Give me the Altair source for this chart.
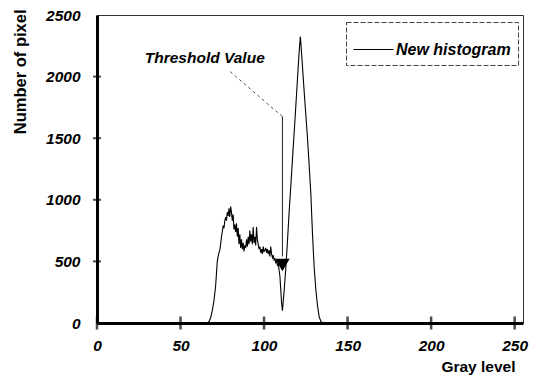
import altair as alt
import pandas as pd

# ---- histogram data (gray level, pixel count) ----
gray = [0, 40, 66, 67, 68, 69, 70, 71,
        72, 72.5, 73, 73.5, 74, 74.5, 75, 75.5, 76, 76.5, 77, 77.5, 78, 78.5,
        79, 79.5, 80, 80.5, 81, 81.5, 82, 82.5, 83, 83.5, 84, 84.5, 85, 85.5,
        86, 86.5, 87, 87.5, 88, 88.5, 89, 89.5, 90, 90.5, 91, 91.5, 92, 92.5,
        93, 93.5, 94, 94.5, 95, 95.5, 96, 96.5, 97, 97.5, 98, 98.5, 99, 99.5,
        100, 100.5, 101, 101.5, 102, 102.5, 103, 103.5, 104, 104.5, 105, 105.5,
        106, 106.5, 107, 107.5, 108, 108.5, 109, 109.5, 110, 110.5, 111,
        112, 113, 114, 115, 116, 117, 118, 119, 120, 121, 121.7,
        122, 123, 124, 125, 126, 127, 128, 129, 130, 131, 132, 133, 134, 135,
        180, 255]
count = [0, 0, 0, 10, 40, 100, 180, 300,
         500, 540, 570, 590, 640, 700, 740, 790, 770, 830, 860, 830, 900, 870,
         930, 860, 945, 900, 830, 880, 760, 800, 740, 810, 700, 770, 640, 720,
         610, 680, 600, 650, 580, 630, 610, 680, 620, 700, 640, 750, 660, 720,
         640, 780, 650, 700, 630, 780, 680, 640, 600, 620, 570, 600, 560, 620,
         580, 590, 610, 570, 600, 560, 590, 540, 620, 560, 530, 550,
         510, 520, 490, 500, 470, 480, 430, 380, 270, 160, 100,
         260, 440, 660, 900, 1110, 1330, 1540, 1760, 1980, 2200, 2325,
         2280, 2080, 1880, 1690, 1500, 1280, 1050, 720, 450, 270, 140, 50, 15, 0,
         0, 0]
series_name = ["New histogram"] * len(gray)

x_ticks = [0, 50, 100, 150, 200, 250]
y_ticks = [0, 500, 1000, 1500, 2000, 2500]
y_inner_ticks = [500, 1000, 1500, 2000]

# ---- threshold annotation (data units) ----
threshold_gray = 111
threshold_marker_count = 470
threshold_line_top = 1675
threshold_line_bottom = 540
leader_start = (79.7, 2041)
label_text = ["Threshold Value"]
label_pos = (64.5, 2154)

FONT = "Liberation Sans"

df = pd.DataFrame({"gray": gray, "count": count, "series": series_name})

xscale = alt.Scale(domain=[0, 255], nice=False, zero=False)
yscale = alt.Scale(domain=[0, 2500], nice=False)

line = alt.Chart(df).mark_line(strokeWidth=1.1, clip=True).encode(
    x=alt.X("gray:Q", scale=xscale,
            axis=alt.Axis(values=x_ticks, title="Gray level", grid=False, format="d",
                          tickSize=0, labelPadding=15, labelFlush=False,
                          domainWidth=3, domainColor="black",
                          labelFont=FONT, labelFontSize=15.5, labelFontWeight="bold",
                          labelFontStyle="italic", labelColor="black",
                          titleFont=FONT, titleFontSize=15.5, titleFontWeight="bold",
                          titleColor="black", titleAlign="right", titleBaseline="middle",
                          titleX=418, titleY=43)),
    y=alt.Y("count:Q", scale=yscale,
            axis=alt.Axis(values=y_ticks, title="Number of pixel", grid=False, format="d",
                          tickSize=0, labelPadding=17, labelFlush=False,
                          domainWidth=3, domainColor="black",
                          labelFont=FONT, labelFontSize=15.5, labelFontWeight="bold",
                          labelFontStyle="italic", labelColor="black",
                          titleFont=FONT, titleFontSize=16.5, titleFontWeight="bold",
                          titleColor="black", titleAngle=-90, titleAlign="right",
                          titleBaseline="middle", titleX=-77, titleY=-6)),
    color=alt.Color("series:N", scale=alt.Scale(range=["black"]),
                    legend=alt.Legend(title=None, orient="none", legendX=249, legendY=7,
                                      symbolType="stroke", symbolSize=1600,
                                      symbolStrokeWidth=1, symbolStrokeColor="black",
                                      padding=7, labelOffset=2,
                                      labelFont=FONT, labelFontSize=16,
                                      labelFontWeight="bold", labelFontStyle="italic",
                                      labelColor="black", strokeColor="#444")),
)

xt = alt.Chart(pd.DataFrame({"x": x_ticks, "y": [0] * len(x_ticks)})).mark_tick(
    orient="vertical", size=13, thickness=2.5, color="black").encode(
    x=alt.X("x:Q", scale=xscale), y=alt.Y("y:Q", scale=yscale))

yt = alt.Chart(pd.DataFrame({"x": [0] * len(y_inner_ticks), "y": y_inner_ticks})).mark_tick(
    orient="horizontal", size=8, thickness=2, color="black").encode(
    x=alt.X("x:Q", scale=xscale), y=alt.Y("y:Q", scale=yscale))

leader = alt.Chart(pd.DataFrame({
    "x": [leader_start[0]], "y": [leader_start[1]],
    "x2": [threshold_gray], "y2": [threshold_line_top]})).mark_rule(
    strokeDash=[3, 3], strokeWidth=1, color="#555").encode(
    x=alt.X("x:Q", scale=xscale), y=alt.Y("y:Q", scale=yscale), x2="x2:Q", y2="y2:Q")

vline = alt.Chart(pd.DataFrame({
    "x": [threshold_gray], "y": [threshold_line_top], "y2": [threshold_line_bottom]})).mark_rule(
    strokeWidth=1, color="#222").encode(
    x=alt.X("x:Q", scale=xscale), y=alt.Y("y:Q", scale=yscale), y2="y2:Q")

marker = alt.Chart(pd.DataFrame({
    "x": [threshold_gray], "y": [threshold_marker_count]})).mark_point(
    shape="triangle-down", filled=True, size=210, color="black", opacity=1).encode(
    x=alt.X("x:Q", scale=xscale), y=alt.Y("y:Q", scale=yscale))

label = alt.Chart(pd.DataFrame({
    "x": [label_pos[0]], "y": [label_pos[1]], "t": label_text})).mark_text(
    font=FONT, fontSize=15.5, fontWeight="bold", fontStyle="italic",
    color="black", align="center", baseline="middle").encode(
    x=alt.X("x:Q", scale=xscale), y=alt.Y("y:Q", scale=yscale), text="t:N")

chart = alt.layer(line, xt, yt, leader, vline, marker, label).properties(
    width=426, height=308,
    padding={"left": 89, "top": 7, "right": 7, "bottom": 53},
    autosize=alt.AutoSizeParams(type="none"),
    background="white",
).configure_view(stroke="#333", strokeWidth=1
).configure_legend(strokeDash=[5, 2], strokeWidth=1)

chart.save("out.html", embed_options={"renderer": "svg", "actions": False})
